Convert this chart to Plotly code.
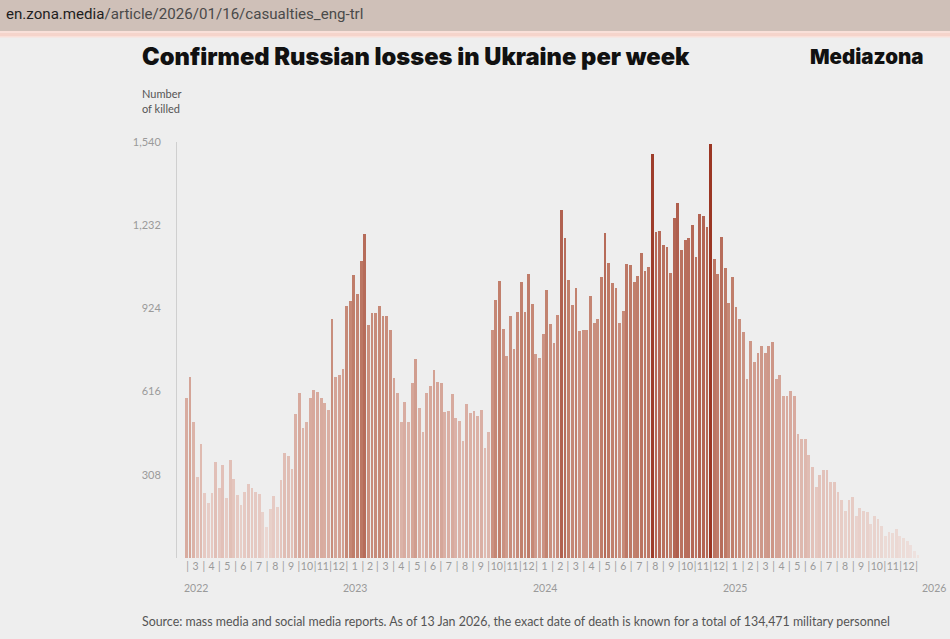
import pandas as pd
import plotly.graph_objects as go

# ---- data ----
first_week = "2022-02-24"
weekly_killed = [
    591, 669, 505, 299, 421, 240, 203, 240, 354, 261,
    343, 222, 364, 292, 234, 197, 243, 274, 259, 246,
    238, 169, 113, 181, 230, 189, 290, 388, 376, 329,
    532, 612, 483, 502, 594, 622, 616, 594, 573, 548,
    884, 669, 678, 699, 934, 951, 1047, 977, 1100, 1199,
    863, 908, 908, 932, 895, 895, 843, 665, 610, 502,
    579, 505, 649, 736, 554, 466, 610, 637, 696, 653,
    649, 539, 543, 608, 518, 508, 432, 569, 536, 545,
    526, 548, 407, 466, 843, 954, 1025, 848, 748, 895,
    772, 911, 1022, 909, 1050, 939, 754, 742, 829, 992,
    866, 795, 900, 1288, 1183, 1031, 937, 1001, 840, 844,
    844, 970, 869, 884, 1041, 1204, 1091, 1017, 1001, 871,
    916, 1088, 1084, 1023, 1045, 1128, 1062, 1076, 1494, 1208,
    1210, 1158, 1152, 1054, 1257, 1315, 1140, 1179, 1183, 1232,
    1113, 1275, 1266, 1224, 1534, 1107, 1050, 1189, 1072, 943,
    1039, 930, 884, 836, 662, 805, 725, 760, 783, 760,
    783, 801, 662, 678, 598, 598, 619, 600, 458, 440,
    440, 382, 336, 262, 308, 327, 327, 281, 281, 243,
    213, 173, 213, 225, 157, 185, 173, 169, 127, 154,
    144, 117, 83, 95, 92, 107, 80, 74, 62, 49,
    25, 12,
]
y_tick_values = [308, 616, 924, 1232, 1540]
y_tick_labels = ["308", "616", "924", "1,232", "1,540"]
month_range = ("2022-03-01", "2025-12-01")
year_labels = ["2022", "2023", "2024", "2025", "2026"]
year_label_months = ["2022-03", "2023-01", "2024-01", "2025-01", "2026-01"]

title = "Confirmed Russian losses in Ukraine per week"
brand = "Mediazona"
y_title_lines = ["Number", "of killed"]
source = ("Source: mass media and social media reports. As of 13 Jan 2026, the exact date "
          "of death is known for a total of 134,471 military personnel")

# ---- geometry ----
W, H = 950, 639
PL, PR, PT, PB = 177, 935, 142, 558


def px(xp):
    return (xp - PL) / (PR - PL)


def py(yp):
    return (PB - yp) / (PB - PT)


week_starts = pd.date_range(first_week, periods=len(weekly_killed), freq="7D")
bar_x = week_starts + pd.Timedelta(hours=66)

months = pd.date_range(month_range[0], month_range[1], freq="MS")
month_mid = [m + (m + pd.offsets.MonthBegin(1) - m) / 2 for m in months]
month_edges = list(months) + [months[-1] + pd.offsets.MonthBegin(1)]

tickvals = list(month_mid) + month_edges
ticktext = [str(m.month) for m in months] + ["|"] * len(month_edges)

fig = go.Figure()
fig.add_trace(go.Bar(
    x=bar_x,
    y=weekly_killed,
    width=5.4 * 86400000,
    marker=dict(
        color=weekly_killed,
        cmin=0,
        cmax=1540,
        colorscale=[
            [0.0, "#efe4e1"],
            [0.15, "#e6cac3"],
            [0.4, "#d7a99d"],
            [0.65, "#c2826f"],
            [0.85, "#b05f4e"],
            [1.0, "#9a3522"],
        ],
        line=dict(width=0),
    ),
    hoverinfo="x+y",
))

grey = "#9a9a9a"
font_main = "Lato"

annotations = []
# year labels
for lab, mon in zip(year_labels, year_label_months):
    m = pd.Timestamp(mon + "-01")
    mid = m + (m + pd.offsets.MonthBegin(1) - m) / 2
    if lab == "2026":
        annotations.append(dict(
            x=px(948), xref="paper", y=py(588), yref="paper", text=lab, showarrow=False,
            xanchor="right", yanchor="middle",
            font=dict(family=font_main, size=10.5, color=grey),
        ))
        continue
    annotations.append(dict(
        x=mid, xref="x", y=py(588), yref="paper", text=lab, showarrow=False,
        xanchor="center", yanchor="middle",
        font=dict(family=font_main, size=10.5, color=grey),
    ))

annotations += [
    dict(x=px(4), y=py(14), xref="paper", yref="paper", xanchor="left", yanchor="middle",
         showarrow=False,
         text="<span style='color:#1e1e1e'>en.zona.media</span>/article/2026/01/16/casualties_eng-trl",
         font=dict(family="Roboto", size=15.1, color="#4a4a4a")),
    dict(x=px(140), y=py(56), xref="paper", yref="paper", xanchor="left", yanchor="middle",
         showarrow=False, text=title,
         font=dict(family="Inter", size=23.7, color="#111111", weight=900)),
    dict(x=px(926), y=py(57), xref="paper", yref="paper", xanchor="right", yanchor="middle",
         showarrow=False, text=brand,
         font=dict(family="Inter", size=20.5, color="#111111", weight=900)),
    dict(x=px(140), y=py(93), xref="paper", yref="paper", xanchor="left", yanchor="middle",
         showarrow=False, text=y_title_lines[0],
         font=dict(family=font_main, size=11, color="#555555")),
    dict(x=px(140), y=py(109), xref="paper", yref="paper", xanchor="left", yanchor="middle",
         showarrow=False, text=y_title_lines[1],
         font=dict(family=font_main, size=11, color="#555555")),
    dict(x=px(140), y=py(621), xref="paper", yref="paper", xanchor="left", yanchor="middle",
         showarrow=False, text=source,
         font=dict(family=font_main, size=12.4, color="#555555")),
]

shapes = [
    dict(type="rect", xref="paper", yref="paper", x0=px(-20), x1=px(980),
         y0=py(31), y1=py(-10), fillcolor="#cfc0b8", line=dict(width=0), layer="below"),
    dict(type="rect", xref="paper", yref="paper", x0=px(-20), x1=px(980),
         y0=py(37.5), y1=py(31), fillcolor="#f9e0d9", line=dict(width=0), layer="below"),
    dict(type="rect", xref="paper", yref="paper", x0=px(-20), x1=px(980),
         y0=py(36), y1=py(33), fillcolor="#f5d4cb", line=dict(width=0), layer="below"),
]

x_left = pd.Timestamp(first_week) - pd.Timedelta(days=(185 - PL) / 0.52)
x_right = pd.Timestamp(first_week) + pd.Timedelta(days=(PR - 185) / 0.52)

fig.update_layout(
    width=W, height=H,
    margin=dict(l=PL, r=W - PR, t=PT, b=H - PB, pad=0),
    paper_bgcolor="#eeeeee",
    plot_bgcolor="#eeeeee",
    showlegend=False,
    bargap=0,
    annotations=annotations,
    shapes=shapes,
    xaxis=dict(
        type="date",
        range=[x_left, x_right],
        tickmode="array",
        tickvals=tickvals,
        ticktext=ticktext,
        tickangle=0,
        ticks="",
        showgrid=False,
        zeroline=False,
        showline=False,
        tickfont=dict(family=font_main, size=10.5, color=grey),
        fixedrange=True,
    ),
    yaxis=dict(
        range=[0, 1540],
        tickmode="array",
        tickvals=y_tick_values,
        ticktext=y_tick_labels,
        ticks="",
        showgrid=False,
        zeroline=False,
        showline=True,
        linecolor="#cfcfcf",
        linewidth=1,
        ticklabelstandoff=13,
        tickfont=dict(family=font_main, size=11, color=grey),
        fixedrange=True,
    ),
)

fig.write_html(
    "out.html",
    config={"displayModeBar": False},
    post_script="document.body.style.margin='0';document.body.style.background='#eeeeee';",
)
